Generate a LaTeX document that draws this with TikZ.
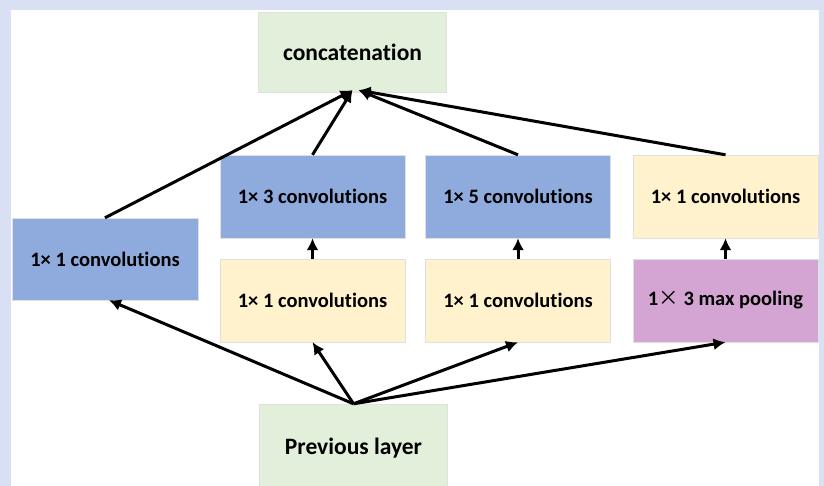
\documentclass[tikz,border=0pt]{standalone}
\usepackage{fontspec}
\setmainfont{Carlito}[Ligatures=NoCommon]
\newfontfamily\cjk{Noto Sans CJK SC}
\usetikzlibrary{positioning,arrows.meta}
\definecolor{frameblue}{HTML}{DAE0F3}
\definecolor{concatgreen}{HTML}{E2EFDA}
\definecolor{convblue}{HTML}{8FAADC}
\definecolor{convyellow}{HTML}{FFF2CC}
\definecolor{poolpurple}{HTML}{D4A5D3}
\tikzset{
  layer/.style={draw=black!12, minimum width=185pt, minimum height=83pt, inner sep=0pt,
    font=\bfseries\fontsize{20.5}{24}\selectfont},
  big/.style={font=\bfseries\fontsize{23.5}{28}\selectfont},
  conn/.style={line width=3pt, -{Latex[length=12pt,width=12pt]}},
}

\begin{document}
\begin{tikzpicture}[x=1pt,y=-1pt]
	\useasboundingbox (0,0) rectangle (824,486);
	\fill[frameblue] (0,0) rectangle (824,486);
	\fill[white] (11,10) rectangle (819,486);

	\node[layer, big, fill=concatgreen, minimum width=188pt, minimum height=80pt] (concat) at (352.5, 52) {concatenation};
	\node[layer, fill=convblue, minimum width=186pt, minimum height=82pt] (c1) at (105, 259) {1× 1 convolutions};
	\node[layer, fill=convblue] (c3) at (312.5, 196.5) {1× 3 convolutions};
	\node[layer, fill=convblue] (c5) at (518, 196.5) {1× 5 convolutions};
	\node[layer, fill=convyellow] (cp) at (725.5, 196.5) {1× 1 convolutions};
	\node[layer, fill=convyellow] (r1) at (312.5, 300.5) {1× 1 convolutions};
	\node[layer, fill=convyellow] (r2) at (518, 300.5) {1× 1 convolutions};
	\node[layer, fill=poolpurple] (mp) at (725.5, 300.5) {1{\cjk\mdseries ×} 3 max pooling};
	\node[layer, big, fill=concatgreen, minimum width=188pt, minimum height=88pt] (prev) at (353.5, 448) {Previous layer};

	\draw[conn] (prev.north) -- ([xshift=4pt]c1.south);
	\draw[conn] (prev.north) -- (r1.south);
	\draw[conn] (prev.north) -- (r2.south);
	\draw[conn] (prev.north) -- (mp.south);

	\draw[conn] (r1.north) -- (c3.south);
	\draw[conn] (r2.north) -- (c5.south);
	\draw[conn] (mp.north) -- (cp.south);

	\draw[conn] (c1.north) -- ([yshift=2pt]concat.south);
	\draw[conn] (c3.north) -- ([yshift=2pt]concat.south);
	\draw[conn] (c5.north) -- ([xshift=6pt,yshift=2pt]concat.south);
	\draw[conn] (cp.north) -- ([xshift=6pt,yshift=2pt]concat.south);
\end{tikzpicture}
\end{document}
